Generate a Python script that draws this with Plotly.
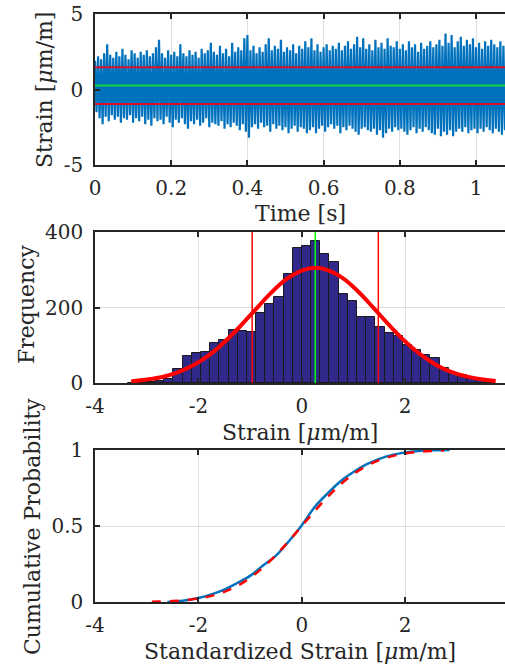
import numpy as np
import plotly.graph_objects as go

# ---- data ----
# time signal: local peaks / troughs, one pair every 8 ms
DT = 0.008
strain_peaks = [
    1.9, 2.2, 2.0, 2.4, 3.0, 2.3, 2.1, 2.5, 2.2, 2.7,
    2.3, 2.0, 2.6, 2.4, 2.1, 2.5, 2.3, 2.6, 2.2, 2.4,
    2.8, 3.3, 2.4, 2.1, 2.6, 2.3, 2.5, 2.2, 3.0, 2.4,
    2.2, 2.6, 2.3, 2.5, 2.1, 2.7, 2.4, 2.6, 3.1, 2.5,
    2.3, 2.9, 2.4, 2.7, 2.2, 3.1, 2.5, 2.8, 2.6, 3.4,
    3.6, 2.6, 2.9, 2.4, 2.8, 2.5, 3.0, 3.4, 2.6, 2.9,
    2.7, 3.3, 2.5, 2.8, 2.6, 3.0, 2.4, 2.9, 2.7, 3.2,
    2.8, 3.4, 2.6, 3.0, 2.5, 2.8, 3.0, 2.6, 2.9, 2.7,
    3.1, 2.6, 2.9, 3.2, 2.7, 3.0, 3.5, 2.8, 3.4, 2.7,
    3.0, 2.6, 3.3, 2.8, 3.1, 2.7, 3.4, 2.9, 2.8, 3.2,
    2.7, 3.0, 2.6, 3.2, 2.8, 3.0, 2.5, 3.1, 2.7, 2.9,
    3.2, 2.8, 3.0, 3.3, 2.9, 3.7, 3.1, 3.6, 2.8, 3.2,
    3.5, 2.9, 3.3, 3.0, 3.4, 2.8, 3.1, 2.7, 3.2, 2.9,
    3.3, 3.0, 2.8, 3.2, 2.9, 3.1,
]
strain_troughs = [
    -1.5, -1.9, -2.3, -1.8, -2.1, -1.7, -2.0, -1.8, -2.2, -1.9,
    -2.0, -1.7, -2.2, -1.9, -2.1, -1.8, -2.3, -2.0, -2.4, -1.9,
    -2.1, -2.0, -2.3, -1.8, -2.2, -2.5, -2.0, -2.2, -1.9, -2.3,
    -2.6, -2.1, -2.3, -2.0, -2.4, -2.2, -1.9, -2.5, -2.2, -2.3,
    -2.4, -2.1, -2.6, -2.3, -2.5, -2.2, -2.4, -2.7, -2.3, -2.8,
    -3.2, -2.5, -2.3, -2.6, -2.2, -2.5, -2.4, -2.8, -2.3, -2.6,
    -2.4, -2.7, -2.5, -2.9, -2.6, -2.4, -2.8, -2.5, -2.6, -2.9,
    -2.7, -2.5, -2.9, -2.6, -2.4, -2.8, -2.5, -2.3, -2.6, -2.4,
    -2.9, -2.5, -2.7, -2.4, -2.6, -2.8, -3.0, -2.6, -2.5, -2.7,
    -2.8, -2.6, -3.0, -2.7, -3.2, -2.9, -2.6, -2.8, -2.5, -2.7,
    -2.6, -2.8, -3.0, -2.7, -2.5, -2.9, -2.6, -2.8, -2.5, -2.7,
    -2.9, -3.0, -2.6, -3.1, -2.8, -3.0, -2.7, -3.1, -2.8, -2.6,
    -2.8, -2.5, -2.9, -2.7, -2.6, -2.9, -2.6, -2.8, -2.5, -2.7,
    -2.9, -2.6, -2.8, -3.0, -2.7, -2.8,
]
strain_mean = 0.26
strain_std = 1.22

# histogram (40 bins)
BIN_START = -3.37
BIN_W = 0.1775
hist_counts = [1, 2, 3, 6, 11, 37, 72, 79, 83, 105,
               114, 140, 138, 136, 185, 208, 229, 288, 357, 364,
               377, 342, 321, 235, 217, 176, 176, 149, 132, 125,
               102, 87, 74, 65, 39, 27, 21, 14, 11, 8]

# fitted normal curve
fit_x = [-3.3, -3.0, -2.7, -2.4, -2.1, -1.8, -1.5, -1.2, -0.9, -0.6, -0.3, 0.0, 0.26,
         0.5, 0.8, 1.1, 1.4, 1.7, 2.0, 2.3, 2.6, 2.9, 3.2, 3.5, 3.75]
fit_y = [4, 9, 16, 28, 47, 73, 108, 149, 194, 238, 275, 298, 305,
         299, 277, 241, 197, 152, 110, 75, 48, 29, 17, 9, 5]

# cumulative probability
ecdf_x = [-2.6, -2.3, -2.0, -1.75, -1.5, -1.25, -1.0, -0.75, -0.5, -0.25, 0.0,
          0.25, 0.5, 0.75, 1.0, 1.25, 1.5, 1.75, 2.0, 2.25, 2.5, 2.86]
ecdf_y = [0.0, 0.008, 0.026, 0.05, 0.082, 0.125, 0.172, 0.24, 0.305, 0.40, 0.505,
          0.625, 0.715, 0.795, 0.855, 0.905, 0.942, 0.968, 0.983, 0.993, 0.998, 1.0]
ncdf_x = [-2.9, -2.75, -2.5, -2.25, -2.0, -1.75, -1.5, -1.25, -1.0, -0.75, -0.5, -0.25, 0.0,
          0.25, 0.5, 0.75, 1.0, 1.25, 1.5, 1.75, 2.0, 2.25, 2.5, 2.75]
ncdf_y = [0.0019, 0.0030, 0.0062, 0.0122, 0.0228, 0.0401, 0.0668, 0.1056, 0.1587, 0.2266,
          0.3085, 0.4013, 0.5, 0.5987, 0.6915, 0.7734, 0.8413, 0.8944, 0.9332, 0.9599,
          0.9772, 0.9878, 0.9938, 0.9970]

# ---- styling ----
W, H = 505, 666
ML = 95
FONT = "DejaVu Serif"
AX = "#262626"
GRID = "#dfdfdf"
BLUE = "#0072BD"
TICK_FS = 20
TITLE_FS = 22


def ydom(top_px, bot_px):
    return [1 - bot_px / H, 1 - top_px / H]


# interleave peaks and troughs into one signal
n = len(strain_peaks)
t_sig = np.empty(2 * n)
y_sig = np.empty(2 * n)
t_sig[0::2] = np.arange(n) * DT
t_sig[1::2] = np.arange(n) * DT + DT / 2
y_sig[0::2] = strain_peaks
y_sig[1::2] = strain_troughs
t_end = t_sig[-1]

lo_line = strain_mean - strain_std
hi_line = strain_mean + strain_std

fig = go.Figure()

# 1) time signal
fig.add_trace(go.Scatter(x=t_sig, y=y_sig, mode="lines",
                         line=dict(color=BLUE, width=2.2), xaxis="x", yaxis="y"))
for yv, col in [(strain_mean, "#14d23c"), (hi_line, "#d8102a"), (lo_line, "#d8102a")]:
    fig.add_trace(go.Scatter(x=[0, t_end], y=[yv, yv], mode="lines",
                             line=dict(color=col, width=2), xaxis="x", yaxis="y"))

# 2) histogram
centers = BIN_START + BIN_W * (np.arange(len(hist_counts)) + 0.5)
fig.add_trace(go.Bar(x=centers, y=hist_counts, width=BIN_W,
                     marker=dict(color="#30298a", line=dict(color="#1a1a1a", width=1)),
                     xaxis="x2", yaxis="y2"))
for xv, col in [(lo_line, "red"), (hi_line, "red"), (strain_mean, "#00ff00")]:
    fig.add_trace(go.Scatter(x=[xv, xv], y=[0, 400], mode="lines",
                             line=dict(color=col, width=1.5), xaxis="x2", yaxis="y2"))
fig.add_trace(go.Scatter(x=fit_x, y=fit_y, mode="lines", line_shape="spline",
                         line=dict(color="red", width=4), xaxis="x2", yaxis="y2"))

# 3) cdf
fig.add_trace(go.Scatter(x=ecdf_x, y=ecdf_y, mode="lines", line_shape="spline",
                         line=dict(color=BLUE, width=2.5), xaxis="x3", yaxis="y3"))
fig.add_trace(go.Scatter(x=ncdf_x, y=ncdf_y, mode="lines", line_shape="spline",
                         line=dict(color="red", width=2.5, dash="dash"), xaxis="x3", yaxis="y3"))

xcommon = dict(showline=True, linecolor=AX, linewidth=1.5, mirror="ticks",
               ticks="inside", ticklen=5, tickcolor=AX, tickwidth=1.5,
               showgrid=True, gridcolor=GRID, gridwidth=1, zeroline=False,
               tickfont=dict(family=FONT, size=TICK_FS, color=AX), domain=[0, 1],
               ticklabelstandoff=4, automargin=False)
ycommon = dict(showline=True, linecolor=AX, linewidth=1.5, mirror=False,
               ticks="inside", ticklen=5, tickcolor=AX, tickwidth=1.5,
               showgrid=True, gridcolor=GRID, gridwidth=1, zeroline=False,
               tickfont=dict(family=FONT, size=TICK_FS, color=AX),
               ticklabelstandoff=6, automargin=False)

strain_ticks = [-4, -2, 0, 2, 4]
strain_ticktext = ["-4", "-2", "0", "2", "4"]

fig.update_layout(
    width=W, height=H,
    margin=dict(l=ML, r=0, t=0, b=0, autoexpand=False),
    paper_bgcolor="white", plot_bgcolor="white",
    showlegend=False, bargap=0, hovermode=False,
    font=dict(family=FONT, color=AX),
    xaxis=dict(xcommon, range=[0, (W - ML) / 381], anchor="y",
               tickvals=[0, 0.2, 0.4, 0.6, 0.8, 1], ticktext=["0", "0.2", "0.4", "0.6", "0.8", "1"]),
    yaxis=dict(ycommon, range=[-5, 5], domain=ydom(14, 165), anchor="x",
               tickvals=[-5, 0, 5], ticktext=["-5", "0", "5"], showgrid=False),
    xaxis2=dict(xcommon, range=[-4, -4 + (W - ML) / 51.7], anchor="y2",
                tickvals=strain_ticks, ticktext=strain_ticktext),
    yaxis2=dict(ycommon, range=[0, 400], domain=ydom(232, 383), anchor="x2",
                tickvals=[0, 200, 400]),
    xaxis3=dict(xcommon, range=[-4, -4 + (W - ML) / 51.7], anchor="y3",
                tickvals=strain_ticks, ticktext=strain_ticktext),
    yaxis3=dict(ycommon, range=[0, 1], domain=ydom(450, 602), anchor="x3",
                tickvals=[0, 0.5, 1], ticktext=["0", "0.5", "1"]),
)

pw = W - ML
def px_x(px):
    return (px - ML) / pw

def px_y(py):
    return 1 - py / H

title_font = dict(family=FONT, size=TITLE_FS, color=AX)
annos = [
    ("Time [s]", px_x(300), px_y(213), 0),
    ("Strain [<i>μ</i>m/m]", px_x(300), px_y(432), 0),
    ("Standardized Strain [<i>μ</i>m/m]", px_x(300), px_y(651), 0),
    ("Strain [<i>μ</i>m/m]", px_x(45), px_y(90), -90),
    ("Frequency", px_x(27), px_y(304), -90),
    ("Cumulative Probability", px_x(32), px_y(527), -90),
]
for text, ax_, ay_, ang in annos:
    fig.add_annotation(text=text, x=ax_, y=ay_, xref="paper", yref="paper",
                       xanchor="center", yanchor="middle", showarrow=False,
                       textangle=ang, font=title_font)

# page body has a default 8px margin; drop it so the figure fills the window
fig.write_html("out.html", config={"displayModeBar": False},
               post_script="document.body.style.margin='0';")
